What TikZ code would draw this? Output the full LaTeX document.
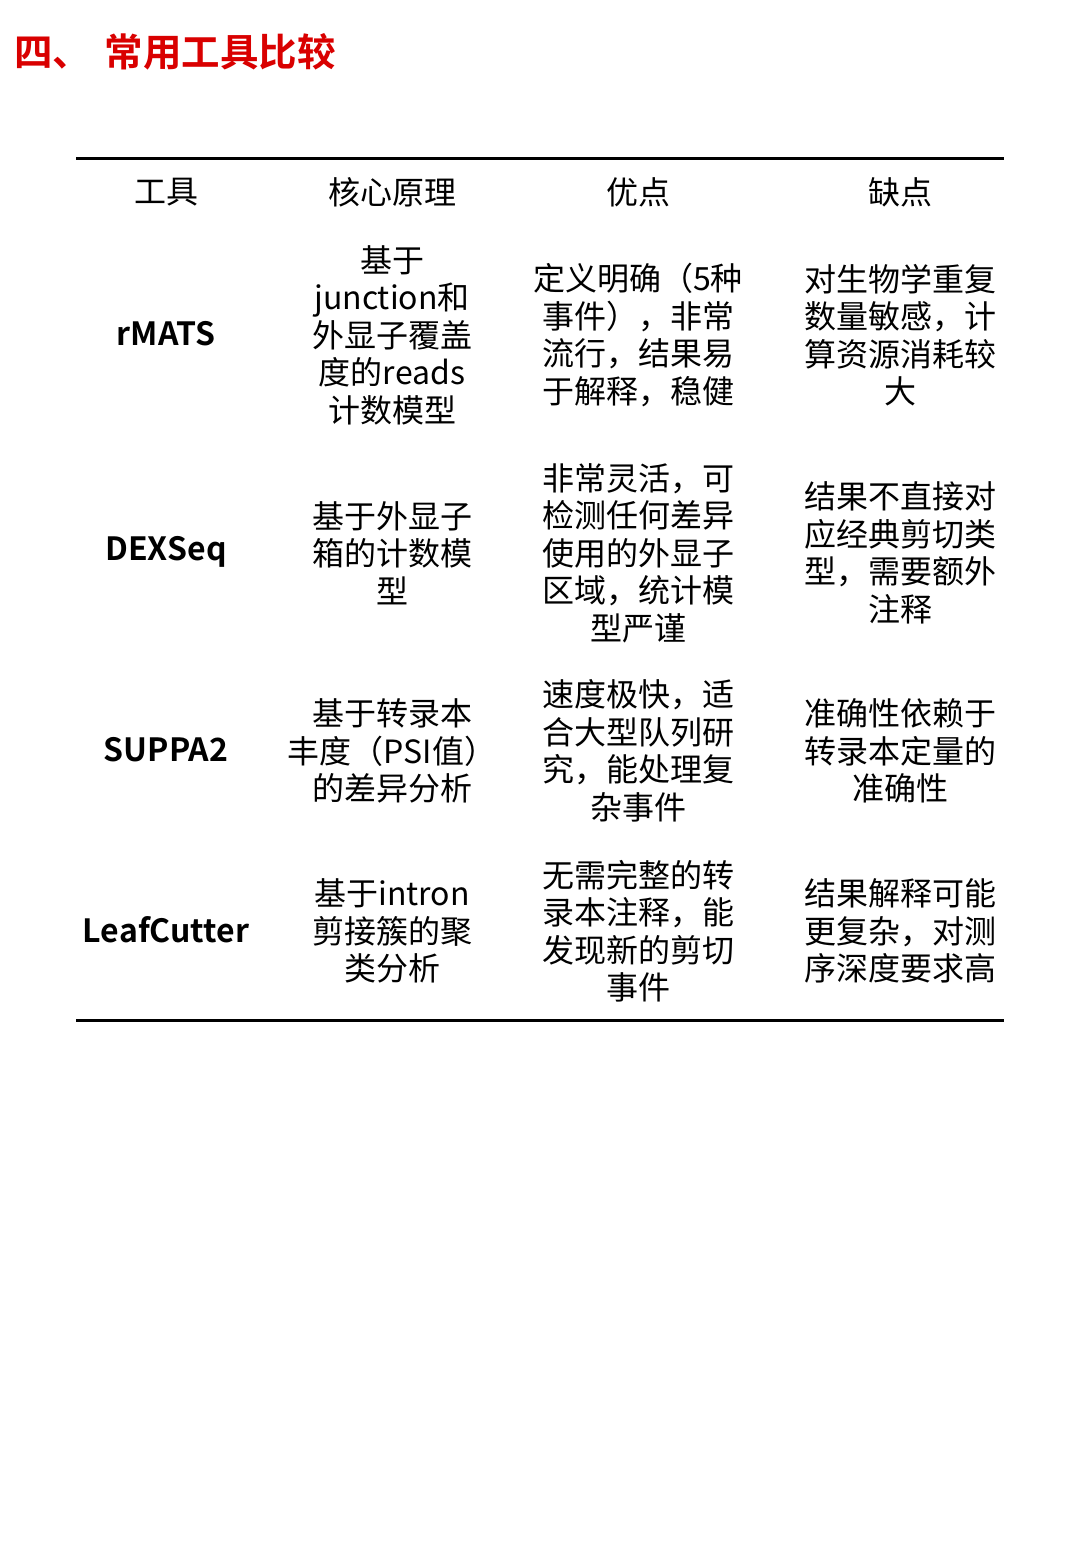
\documentclass[tikz,border=0pt]{standalone}
\usepackage{fontspec}
\setmainfont{Noto Sans CJK SC}
\newfontfamily\cjkb{Noto Sans CJK SC Bold}
\begin{document}
\begin{tikzpicture}[x=1pt,y=-1pt,
  cell/.style={align=center,inner sep=0pt,font=\fontsize{32}{37.5}\selectfont},
  tool/.style={inner sep=0pt,font=\cjkb\fontsize{32}{37}\selectfont},
  rule/.style={line width=3pt}]
\useasboundingbox (0,0) rectangle (1080,1559);
\fill[white] (0,0) rectangle (1080,1559);
\node[anchor=west,inner sep=0pt,text=red!85!black,font=\cjkb\fontsize{38.5}{42}\selectfont] (title) at (14,52) {四、\hspace{0.35em}常用工具比较};
\coordinate (tl) at (76,158); \coordinate (tr) at (1004,158);
\coordinate (bl) at (76,1020); \coordinate (br) at (1004,1020);
\draw[rule] (tl) -- (tr);
\draw[rule] (bl) -- (br);
\node[cell] (h1) at (166,192) {工具};
\node[cell] (h2) at (392,192) {核心原理};
\node[cell] (h3) at (638,192) {优点};
\node[cell] (h4) at (900,192) {缺点};
\node[tool] (t1) at (166,334) {rMATS};
\node[cell] (p1) at (392,335) {基于\\junction和\\外显子覆盖\\度的reads\\计数模型};
\node[cell] (a1) at (638,335) {定义明确（5种\\事件），非常\\流行，结果易\\于解释，稳健};
\node[cell] (d1) at (900,335) {对生物学重复\\数量敏感，计\\算资源消耗较\\大};
\node[tool] (t2) at (166,552) {DEXSeq};
\node[cell] (p2) at (392,553) {基于外显子\\箱的计数模\\型};
\node[cell] (a2) at (638,553) {非常灵活，可\\检测任何差异\\使用的外显子\\区域，统计模\\型严谨};
\node[cell] (d2) at (900,553) {结果不直接对\\应经典剪切类\\型，需要额外\\注释};
\node[tool] (t3) at (166,750) {SUPPA2};
\node[cell] (p3) at (392,751) {基于转录本\\丰度（PSI值）\\的差异分析};
\node[cell] (a3) at (638,751) {速度极快，适\\合大型队列研\\究，能处理复\\杂事件};
\node[cell] (d3) at (900,751) {准确性依赖于\\转录本定量的\\准确性};
\node[tool] (t4) at (166,930) {LeafCutter};
\node[cell] (p4) at (392,931) {基于intron\\剪接簇的聚\\类分析};
\node[cell] (a4) at (638,931) {无需完整的转\\录本注释，能\\发现新的剪切\\事件};
\node[cell] (d4) at (900,931) {结果解释可能\\更复杂，对测\\序深度要求高};
\end{tikzpicture}
\end{document}
